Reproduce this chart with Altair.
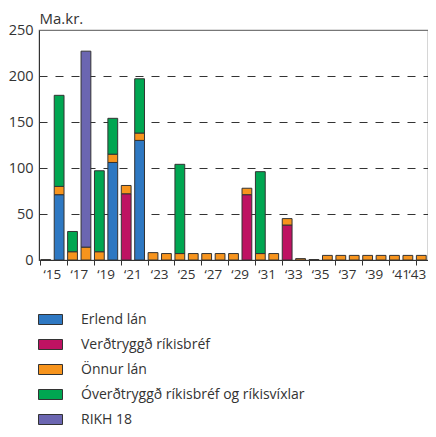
import altair as alt
import pandas as pd

years = list(range(2015, 2044))
series = ["Erlend lán", "Verðtryggð ríkisbréf", "Önnur lán",
          "Óverðtryggð ríkisbréf og ríkisvíxlar", "RIKH 18"]
colors = ["#2E78C2", "#BE1262", "#F7941D", "#00A651", "#6B66B1"]

#                 15 16  17 18  19  20 21  22 23 24 25 26 27 28 29 30 31 32 33 34   35   36 37 38 39 40 41 42 43
erlend =        [0, 71, 0, 0,  0, 106, 0, 130, 0, 0, 0, 0, 0, 0, 0, 0, 0, 0, 0, 0,   0,   0, 0, 0, 0, 0, 0, 0, 0]
verdtryggd =    [0, 0,  0, 0,  0, 0,  72, 0,   0, 0, 0, 0, 0, 0, 0, 71, 0, 0, 38, 0, 0,   0, 0, 0, 0, 0, 0, 0, 0]
onnur =         [0.4, 9, 9, 14, 9, 9, 9,  8,   8, 7, 7, 7, 7, 7, 7, 7, 7, 7, 7, 1.5, 0.5, 5, 5, 5, 5, 5, 5, 5, 5]
overdtryggd =   [0, 99, 22, 0, 88, 39, 0, 59,  0, 0, 97, 0, 0, 0, 0, 0, 89, 0, 0, 0, 0,   0, 0, 0, 0, 0, 0, 0, 0]
rikh =          [0, 0,  0, 213, 0, 0, 0,  0,   0, 0, 0, 0, 0, 0, 0, 0, 0, 0, 0, 0, 0,   0, 0, 0, 0, 0, 0, 0, 0]

values = [erlend, verdtryggd, onnur, overdtryggd, rikh]
rows = []
for si, (name, vals) in enumerate(zip(series, values)):
    for y, v in zip(years, vals):
        if v > 0:
            rows.append({"year": y, "series": name, "value": v, "order": si})
df = pd.DataFrame(rows)

font = "Open Sans"
symbol_path = "M-1,-0.4167H1V0.4167H-1Z"
last = "datum.value == 2043"

chart = alt.Chart(df).mark_bar(stroke="#333333", strokeWidth=1).encode(
    x=alt.X("year:O", title=None,
            scale=alt.Scale(domain=years, paddingInner=0.27, paddingOuter=0.135),
            axis=alt.Axis(values=list(range(2015, 2044, 2)), bandPosition=0,
                          labelOffset=alt.condition(last, alt.value(5), alt.value(6.7)),
                          labelAlign=alt.condition(last, alt.value("right"), alt.value("center")),
                          labelAngle=0,
                          labelOverlap=False,
                          labelExpr="'\u2018' + slice(toString(datum.value), 2)",
                          tickSize=5, tickColor="#333333", domainColor="#333333",
                          labelFontSize=13.5, labelColor="#333333", labelPadding=2,
                          labelFont=font)),
    y=alt.Y("value:Q", stack="zero",
            scale=alt.Scale(domain=[0, 250], nice=False),
            axis=alt.Axis(values=[0, 50, 100, 150, 200, 250], title="Ma.kr.",
                          titleAngle=0, titleAlign="left", titleX=0, titleY=-7,
                          titleBaseline="alphabetic", titleFontSize=15,
                          titleFontWeight="normal", titleColor="#333333", titleFont=font,
                          ticks=False, labelPadding=6, labelFontSize=14.5,
                          labelColor="#333333", labelFont=font,
                          domainColor="#333333",
                          grid=True, gridDash=[8, 8], gridColor="#333333", gridWidth=1.2,
                          gridOpacity=alt.condition("datum.value == 0 || datum.value == 250",
                                                    alt.value(0), alt.value(1)))),
    color=alt.Color("series:N", scale=alt.Scale(domain=series, range=colors),
                    legend=alt.Legend(title=None, orient="none", legendX=-1, legendY=277,
                                      direction="vertical", symbolType=symbol_path,
                                      symbolSize=576, symbolStrokeColor="#333333",
                                      symbolStrokeWidth=1, symbolOpacity=1,
                                      labelFontSize=14, labelColor="#333333",
                                      labelFont=font, labelOffset=18, labelLimit=400,
                                      rowPadding=5)),
    order=alt.Order("order:Q", sort="ascending"),
).properties(
    width=389, height=230,
    autosize=alt.AutoSizeParams(type="none"),
    padding={"left": 31, "top": 22, "right": 0, "bottom": 168},
).configure_view(stroke="#777777", strokeWidth=1.2)

chart.save("out.html", embed_options={"renderer": "svg", "actions": False})
